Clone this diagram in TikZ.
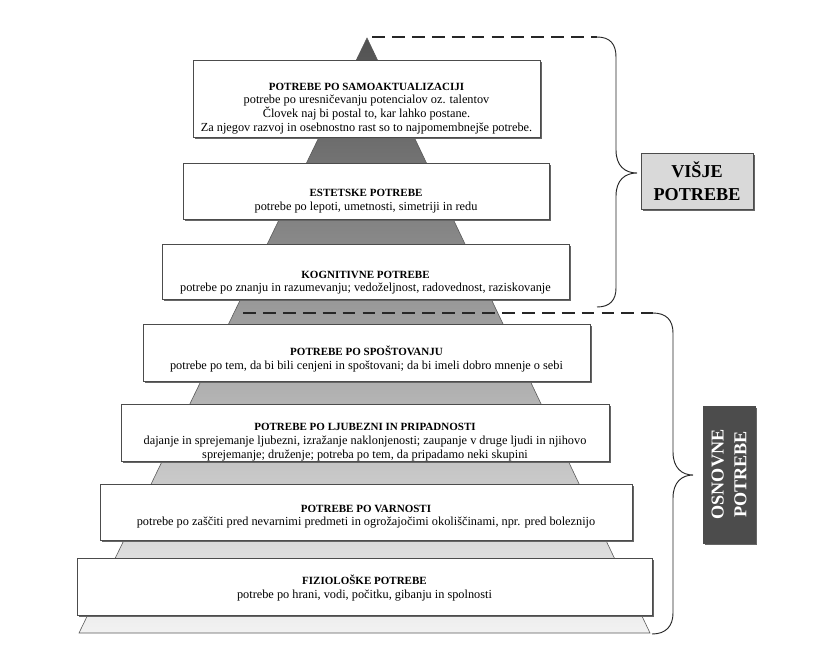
\documentclass[tikz,border=0pt]{standalone}
\usepackage{fontspec}
\setmainfont{Liberation Serif}
\usetikzlibrary{shadows}

\newcommand{\steptitle}[1]{{\fontsize{9.4}{11.8}\selectfont\bfseries #1}}

\begin{document}
\begin{tikzpicture}[x=0.03cm,y=-0.03cm,
    boxshadow/.style={drop shadow={shadow xshift=1.6pt,shadow yshift=-1.6pt,fill=black!60,opacity=1}},
    stepbox/.style={draw=black!70,line width=0.5pt,fill=white,inner sep=0pt,boxshadow},
    steptext/.style={align=center,inner sep=0pt,font=\fontsize{10.5}{11.8}\selectfont},
    dashline/.style={dash pattern=on 11pt off 6pt,line width=1.4pt,black!85},
    bracket/.style={line width=0.8pt,black!85},
    groupbox/.style={draw=black!70,line width=0.5pt,inner sep=0pt,align=center,boxshadow,
      font=\fontsize{15.5}{19.5}\selectfont\bfseries}]

  \useasboundingbox (0,0) rectangle (824,664);
  \fill[white] (0,0) rectangle (824,664);

  % piramida
  \coordinate (apex) at (367,38);
  \coordinate (baseL) at (79,633);
  \coordinate (baseR) at (650,633);
  \shade[top color=black!68,middle color=black!40,bottom color=black!5] (apex) -- (baseR) -- (baseL) -- cycle;
  \draw[black!65,line width=0.5pt] (apex) -- (baseR) -- (baseL) -- cycle;

  % stopnje
  \node[stepbox,minimum width=10.41cm,minimum height=2.31cm] (samo) at (366.5,98.5) {};
  \node[steptext] at ([yshift=-8.5pt]samo.center) {\steptitle{POTREBE PO SAMOAKTUALIZACIJI}\\
    potrebe po uresničevanju potencialov oz. talentov\\
    Človek naj bi postal to, kar lahko postane.\\
    Za njegov razvoj in osebnostno rast so to najpomembnejše potrebe.};

  \node[stepbox,minimum width=10.98cm,minimum height=1.68cm] (estet) at (366,191) {};
  \node[steptext] at ([yshift=-8.5pt]estet.center) {\steptitle{ESTETSKE POTREBE}\\
    potrebe po lepoti, umetnosti, simetriji in redu};

  \node[stepbox,minimum width=12.21cm,minimum height=1.65cm] (kogn) at (365.5,271.5) {};
  \node[steptext] at ([yshift=-9.5pt]kogn.center) {\steptitle{KOGNITIVNE POTREBE}\\
    potrebe po znanju in razumevanju; vedoželjnost, radovednost, raziskovanje};

  \node[stepbox,minimum width=13.41cm,minimum height=1.71cm] (spost) at (366.5,352.5) {};
  \node[steptext] at ([yshift=-5.5pt]spost.center) {\steptitle{POTREBE PO SPOŠTOVANJU}\\
    potrebe po tem, da bi bili cenjeni in spoštovani; da bi imeli dobro mnenje o sebi};

  \node[stepbox,minimum width=14.64cm,minimum height=1.71cm] (ljub) at (365,432.5) {};
  \node[steptext] at ([yshift=-8.5pt]ljub.center) {\steptitle{POTREBE PO LJUBEZNI IN PRIPADNOSTI}\\
    dajanje in sprejemanje ljubezni, izražanje naklonjenosti; zaupanje v druge ljudi in njihovo\\
    sprejemanje; druženje; potreba po tem, da pripadamo neki skupini};

  \node[stepbox,minimum width=15.96cm,minimum height=1.68cm] (varn) at (366,512) {};
  \node[steptext] at ([yshift=-4pt]varn.center) {\steptitle{POTREBE PO VARNOSTI}\\
    potrebe po zaščiti pred nevarnimi predmeti in ogrožajočimi okoliščinami, npr. pred boleznijo};

  \node[stepbox,minimum width=17.25cm,minimum height=1.71cm] (fizio) at (364.5,586.5) {};
  \node[steptext] at ([yshift=-1pt]fizio.center) {\steptitle{FIZIOLOŠKE POTREBE}\\
    potrebe po hrani, vodi, počitku, gibanju in spolnosti};

  % skupini
  \node[groupbox,fill=black!15,minimum width=3.36cm,minimum height=1.68cm] (visje) at (697,181) {VIŠJE\\POTREBE};
  \node[groupbox,fill=black!70,text=white,rotate=90,minimum width=4.11cm,minimum height=1.56cm] (osnovne) at (729,474.5) {OSNOVNE\\POTREBE};

  % oklepaja
  \coordinate (hiA) at (372,37);
  \coordinate (hiB) at (597,37);
  \coordinate (hiTip) at (637,173);
  \draw[dashline] (hiA) -- (hiB);
  \draw[bracket] (hiB) .. controls (610,37) and (616,44) .. (616,57) -- (616,150)
    .. controls (616,166) and (625,173) .. (hiTip) .. controls (625,173) and (616,180) .. (616,196)
    -- (616,288) .. controls (616,300) and (610,307) .. (597,307);

  \coordinate (loA) at (243,313);
  \coordinate (loB) at (653,313);
  \coordinate (loTip) at (693,475);
  \draw[dashline,line width=1.2pt] (loA) -- (loB);
  \draw[bracket] (loB) .. controls (666,313) and (673,320) .. (673,333) -- (673,452)
    .. controls (673,468) and (682,475) .. (loTip) .. controls (682,475) and (673,482) .. (673,498)
    -- (673,613) .. controls (673,626) and (666,634) .. (652,634);
\end{tikzpicture}
\end{document}
